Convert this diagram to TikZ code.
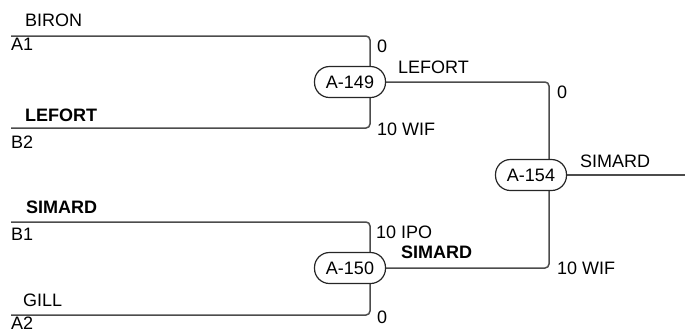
\documentclass[tikz,border=0pt]{standalone}
\usepackage{fontspec}
\setmainfont{Liberation Sans}
\usetikzlibrary{backgrounds}
\tikzset{
  bline/.style={draw=black!70,line width=1.5pt,rounded corners=4pt},
  game/.style={draw=black!85,line width=1.2pt,fill=white,rounded corners=15pt,
    minimum width=71pt,minimum height=31pt,inner sep=0pt,font=\fontsize{18}{20}\selectfont},
  lbl/.style={anchor=base west,inner sep=0pt,font=\fontsize{18}{20}\selectfont},
  blbl/.style={lbl,font=\fontsize{18}{20}\selectfont\bfseries},
}
\begin{document}
\begin{tikzpicture}[x=1pt,y=-1pt,line join=round,line cap=round]
			\useasboundingbox (0,0) rectangle (685,333);
			% entry lines and junctions
			\coordinate (a1) at (11,36);
			\coordinate (b2) at (11,128);
			\coordinate (b1) at (11,222);
			\coordinate (a2) at (11,315);
			\coordinate (j149) at (370,82);
			\coordinate (j150) at (370,268);
			\coordinate (j154) at (549,175);
			\coordinate (out) at (685,175);
			% games
			\node [game] (m149) at (350,82) {A-149};
			\node [game] (m150) at (350,268) {A-150};
			\node [game] (m154) at (531,175) {A-154};
			\begin{scope}[on background layer]
				\draw [bline] (a1) -| (j149) |- (b2);
				\draw [bline] (b1) -| (j150) |- (a2);
				\draw [bline] (m149.east) -| (j154) |- (m150.east);
				\draw [bline] (m154.east) -- (out);
			\end{scope}
			% names and seeds
			\node [lbl] (nbiron) at (25,26) {BIRON};
			\node [lbl] (sa1) at (11,50) {A1};
			\node [blbl] (nlefort) at (25,121) {LEFORT};
			\node [lbl] (sb2) at (11,148) {B2};
			\node [blbl] (nsimard) at (26,213) {SIMARD};
			\node [lbl] (sb1) at (11,240) {B1};
			\node [lbl] (ngill) at (23,306) {GILL};
			\node [lbl] (sa2) at (11,329) {A2};
			% scores and winners
			\node [lbl] (s149a) at (377,52) {0};
			\node [lbl] (w149) at (398,73) {LEFORT};
			\node [lbl] (s149b) at (377,135) {10 WIF};
			\node [lbl] (s150a) at (376,238) {10 IPO};
			\node [blbl] (w150) at (401,258) {SIMARD};
			\node [lbl] (s150b) at (377,323) {0};
			\node [lbl] (s154a) at (557,98) {0};
			\node [lbl] (s154b) at (557,274) {10 WIF};
			\node [lbl] (w154) at (580,167) {SIMARD};
\end{tikzpicture}
\end{document}
